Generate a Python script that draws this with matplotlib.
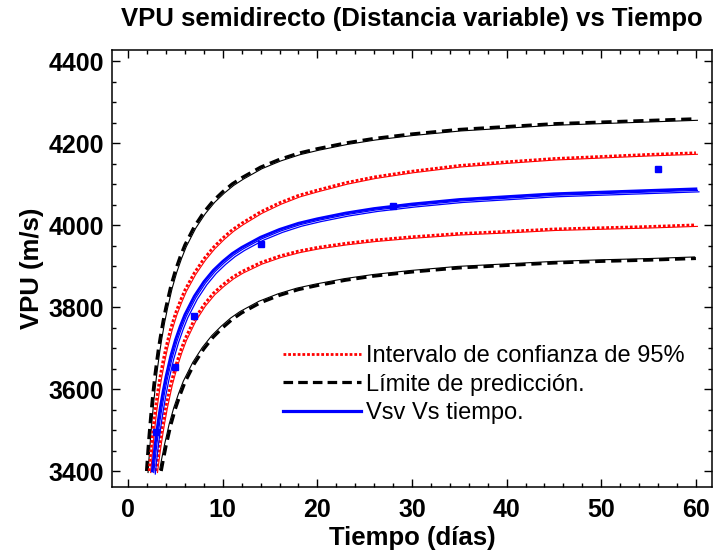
import matplotlib
matplotlib.use("Agg")
import matplotlib.pyplot as plt
from matplotlib.transforms import offset_copy
from matplotlib.ticker import MultipleLocator

# ---- data -------------------------------------------------------------
# measured pulse velocity
t_obs = [3, 5, 7, 14, 28, 56]
v_obs = [3496, 3653, 3779, 3954, 4047, 4137]

# fitted curve
t_fit = [2.56, 2.7, 2.85, 3.0, 3.2, 3.4, 3.7, 4.0, 4.5, 5.0, 5.5, 6, 7, 8, 9,
         10, 11, 12, 14, 16, 18, 20, 23, 26, 30, 35, 40, 45, 50, 55, 60]
v_fit = [3400, 3432, 3463, 3491, 3525, 3555, 3595, 3630, 3680, 3720, 3753,
         3782, 3827, 3862, 3890, 3912, 3931, 3946, 3971, 3990, 4005, 4016,
         4030, 4041, 4052, 4063, 4070, 4077, 4081, 4085, 4089]

# 95 % confidence interval
t_ci_up = [2.23, 2.4, 2.56, 2.7, 2.85, 3.0, 3.2, 3.4, 3.7, 4.0, 4.5, 5.0, 5.5,
           6, 7, 8, 9, 10, 11, 12, 14, 16, 18, 20, 23, 26, 30, 35, 40, 45,
           50, 55, 60]
v_ci_up = [3400, 3446, 3485, 3516, 3546, 3573, 3605, 3633, 3670, 3702, 3748,
           3785, 3815, 3842, 3884, 3918, 3946, 3969, 3989, 4005, 4033, 4055,
           4073, 4086, 4104, 4118, 4132, 4146, 4155, 4163, 4168, 4173, 4177]
t_ci_lo = [2.95, 3.0, 3.2, 3.4, 3.7, 4.0, 4.5, 5.0, 5.5, 6, 7, 8, 9, 10, 11,
           12, 14, 16, 18, 20, 23, 26, 30, 35, 40, 45, 50, 55, 60]
v_ci_lo = [3400, 3409, 3445, 3477, 3520, 3558, 3612, 3655, 3691, 3722, 3770,
           3806, 3834, 3855, 3873, 3887, 3909, 3925, 3937, 3946, 3956, 3964,
           3972, 3980, 3985, 3991, 3994, 3997, 4001]

# prediction limits
t_pl_up = [1.95, 2.1, 2.23, 2.4, 2.56, 2.7, 2.85, 3.0, 3.2, 3.4, 3.7, 4.0,
           4.5, 5, 5.5, 6, 7, 8, 9, 10, 11, 12, 14, 16, 18, 20, 23, 26, 30,
           35, 40, 45, 50, 55, 60]
v_pl_up = [3400, 3450, 3489, 3535, 3574, 3605, 3636, 3663, 3697, 3726, 3766,
           3800, 3850, 3890, 3923, 3952, 3997, 4032, 4060, 4082, 4101, 4116,
           4142, 4161, 4176, 4187, 4201, 4212, 4223, 4234, 4241, 4248, 4252,
           4256, 4260]
t_pl_lo = [3.5, 3.7, 4.0, 4.5, 5, 5.5, 6, 7, 8, 9, 10, 11, 12, 14, 16, 18,
           20, 23, 26, 30, 35, 40, 45, 50, 55, 60]
v_pl_lo = [3400, 3425, 3460, 3511, 3552, 3586, 3616, 3662, 3698, 3727, 3750,
           3770, 3786, 3811, 3829, 3843, 3853, 3866, 3876, 3886, 3896, 3902,
           3908, 3912, 3915, 3919]

x_ticks = [0, 10, 20, 30, 40, 50, 60]
y_ticks = [3400, 3600, 3800, 4000, 4200, 4400]

title = "VPU semidirecto (Distancia variable) vs Tiempo"
x_label = "Tiempo (días)"
y_label = "VPU (m/s)"
lbl_ci = "Intervalo de confianza de 95%"
lbl_pl = "Límite de predicción."
lbl_fit = "Vsv Vs tiempo."

# ---- figure -----------------------------------------------------------
plt.rcParams["font.family"] = ["Liberation Sans", "DejaVu Sans"]
fig = plt.figure(figsize=(7.13, 5.52), dpi=100)
ax = fig.add_axes([112 / 713, 1 - 487 / 552, 600 / 713, 437 / 552])

RED = "#ff0000"
BLUE = "#0000ff"
BLACK = "#000000"


def shifted(dx, dy):
    return offset_copy(ax.transData, fig=fig, x=dx, y=dy, units="dots")


dash = (0, (3.2, 1.8))
dots = (0, (1.0, 0.7))

# prediction limits: dashed with a thin solid companion
ax.plot(t_pl_up, v_pl_up, color=BLACK, lw=0.8, transform=shifted(1.5, -1.5))
ax.plot(t_pl_up, v_pl_up, color=BLACK, lw=2.3, ls=dash)
ax.plot(t_pl_lo, v_pl_lo, color=BLACK, lw=0.8, transform=shifted(-1.5, 1.5))
ax.plot(t_pl_lo, v_pl_lo, color=BLACK, lw=2.3, ls=dash)

# confidence interval: dotted with a thin solid companion
ax.plot(t_ci_up, v_ci_up, color=RED, lw=0.8, transform=shifted(1.5, -1.5))
ax.plot(t_ci_up, v_ci_up, color=RED, lw=2.0, ls=dots)
ax.plot(t_ci_lo, v_ci_lo, color=RED, lw=0.8, transform=shifted(1.5, -1.5))
ax.plot(t_ci_lo, v_ci_lo, color=RED, lw=2.0, ls=dots)

# fitted curve
ax.plot(t_fit, v_fit, color=BLUE, lw=0.9, transform=shifted(3.0, -3.0))
ax.plot(t_fit, v_fit, color=BLUE, lw=0.9, transform=shifted(1.5, -1.5))
ax.plot(t_fit, v_fit, color=BLUE, lw=2.0)

# observations
ax.plot(t_obs, v_obs, ls="none", marker="s", ms=4.2, color=BLUE, mec=BLUE)

ax.set_xlim(-1.7, 61.7)
ax.set_ylim(3361, 4428)
ax.set_xticks(x_ticks)
ax.set_yticks(y_ticks)
ax.xaxis.set_minor_locator(MultipleLocator(2))
ax.yaxis.set_minor_locator(MultipleLocator(50))
ax.tick_params(which="both", direction="in", top=True, right=True, width=1.0)
ax.tick_params(which="major", length=5.5)
ax.tick_params(which="minor", length=3.0)
ax.tick_params(axis="y", pad=6)
ax.tick_params(axis="x", pad=8)
for lab in ax.get_xticklabels() + ax.get_yticklabels():
    lab.set_fontsize(18)
    lab.set_fontweight("bold")
for s in ax.spines.values():
    s.set_linewidth(1.1)

ax.set_title(title, fontsize=18.5, fontweight="bold", pad=17)
ax.set_xlabel(x_label, fontsize=18.5, fontweight="bold", labelpad=3)
ax.set_ylabel(y_label, fontsize=18.5, fontweight="bold", labelpad=3)

h_ci, = ax.plot([], [], color=RED, lw=2.0, ls=dots)
h_pl, = ax.plot([], [], color=BLACK, lw=2.3, ls=(0, (3.0, 1.6)))
h_fit, = ax.plot([], [], color=BLUE, lw=2.3)
ax.legend([h_ci, h_pl, h_fit], [lbl_ci, lbl_pl, lbl_fit],
          loc="upper left", bbox_to_anchor=(0.285, 0.325), frameon=False,
          fontsize=17, handlelength=3.3, handletextpad=0.2,
          labelspacing=0.28, borderpad=0, borderaxespad=0)

fig.savefig("out.png", dpi=100)
